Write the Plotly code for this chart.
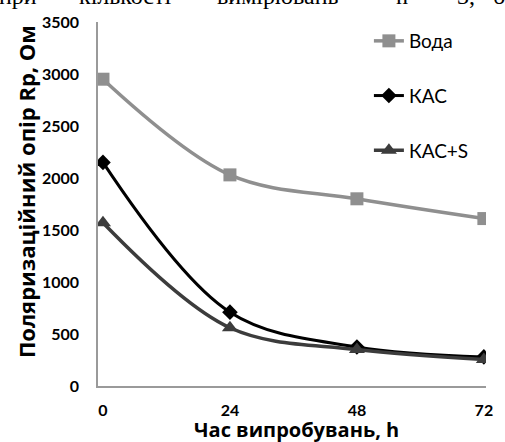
import plotly.graph_objects as go

# Test duration, hours
hours = [0, 24, 48, 72]
tick_labels = ["0", "24", "48", "72"]

# Polarization resistance Rp, Ohm
voda = [2950, 2030, 1800, 1610]
kas = [2150, 710, 375, 280]
kas_s = [1570, 560, 350, 255]

W, H = 505, 442
L, R, T, B = 98, 16, 21, 56
PW, PH = W - L - R, H - T - B


def px_x(p):
    return (p - L) / PW


def px_y(p):
    return 1 + (T - p) / PH


fig = go.Figure()

fig.add_trace(go.Scatter(
    x=hours, y=voda, name="Вода", mode="lines+markers",
    line=dict(color="#8f8f8f", width=3.5, shape="spline", smoothing=1),
    marker=dict(symbol="square", size=13, color="#8f8f8f"),
    legendgroup="a",
))
fig.add_trace(go.Scatter(
    x=hours, y=kas, name="КАС", mode="lines+markers",
    line=dict(color="#000000", width=3, shape="spline", smoothing=1),
    marker=dict(symbol="diamond", size=12, color="#000000"),
    legendgroup="b",
))
fig.add_trace(go.Scatter(
    x=hours, y=kas_s, name="КАС+S", mode="lines+markers",
    line=dict(color="#3c3c3c", width=3.5, shape="spline", smoothing=1),
    marker=dict(symbol="triangle-up", size=14, color="#3c3c3c"),
    legendgroup="c",
))

tick_font = dict(family="Lato", size=16, color="#000000", weight="bold")

fig.update_layout(
    width=W, height=H,
    margin=dict(l=L, r=R, t=T, b=B),
    paper_bgcolor="white", plot_bgcolor="white",
    showlegend=True,
    legend=dict(
        x=px_x(371), y=px_y(21), xanchor="left", yanchor="top",
        font=dict(family="Lato", size=19, color="#000000"),
        tracegroupgap=27, bgcolor="rgba(0,0,0,0)",
        itemwidth=30,
    ),
    xaxis=dict(
        range=[-0.94, 72.4], tickvals=hours, ticktext=tick_labels,
        showgrid=False, zeroline=False, showline=True,
        linecolor="#9a9a9a", linewidth=1.5, ticks="",
        tickfont=tick_font, ticklabelstandoff=9,
    ),
    yaxis=dict(
        range=[0, 3500], tickvals=[0, 500, 1000, 1500, 2000, 2500, 3000, 3500],
        showgrid=False, zeroline=False, showline=True,
        linecolor="#9a9a9a", linewidth=1.5, ticks="",
        tickfont=tick_font, ticklabelstandoff=14,
    ),
)

# Axis titles
fig.add_annotation(
    text="Поляризаційний опір Rp, Ом", textangle=-90,
    xref="paper", yref="paper", x=px_x(25), y=px_y(191),
    xanchor="center", yanchor="middle", showarrow=False,
    font=dict(family="Open Sans", size=22, color="#000000", weight="bold"),
)
fig.add_annotation(
    text="Час випробувань, h",
    xref="paper", yref="paper", x=px_x(298), y=px_y(430),
    xanchor="center", yanchor="middle", showarrow=False,
    font=dict(family="Open Sans", size=20, color="#000000", weight="bold"),
)

# Running text of the page above the chart
words = ["при", "кількості", "вимірювань", "n", "=", "3,", "б"]
word_left = [-4, 77, 216, 396, 420, 458, 494]
for w, xl in zip(words, word_left):
    fig.add_annotation(
        text=w, xref="paper", yref="paper", x=px_x(xl), y=px_y(-5),
        xanchor="left", yanchor="middle", showarrow=False,
        font=dict(family="Liberation Serif", size=24, color="#000000"),
    )

fig.write_html("out.html")
